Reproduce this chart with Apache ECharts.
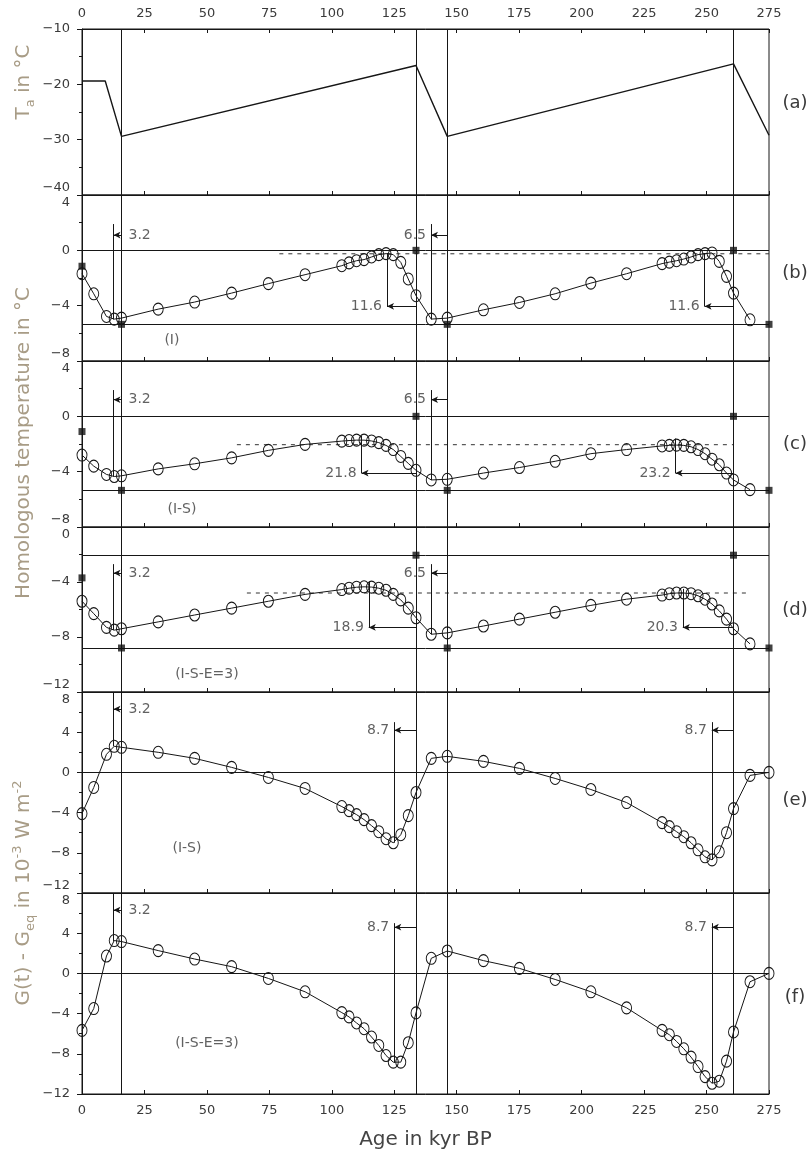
<!DOCTYPE html>
<html><head><meta charset="utf-8">
<script src="https://cdn.jsdelivr.net/npm/echarts@6/dist/echarts.min.js"></script>
<style>html,body{margin:0;padding:0;background:#fff}#c{width:810px;height:1152px}</style>
</head><body><div id="c"></div>
<script>
// ---------------- data ----------------
const xTicks = [0, 25, 50, 75, 100, 125, 150, 175, 200, 225, 250, 275];
// air temperature forcing (panel a)
const taAges = [0, 9.3, 15.8, 133.7, 146.2, 260.8, 275];
const taValues = [-19.4, -19.4, -29.4, -16.6, -29.4, -16.3, -29.2];
// ages of Ta extrema (full-height vertical lines)
const cycleLines = [15.8, 133.7, 146.2, 260.8];
// model output ages (circles)
const ages = [0, 4.7, 9.8, 12.9, 15.8, 30.5, 45.1, 59.9, 74.6, 89.3, 104, 106.9, 109.9, 112.9, 115.9, 118.8, 121.7, 124.6, 127.6, 130.6, 133.7, 139.8, 146.2, 160.7, 175.1, 189.4, 203.7, 218, 232.2, 235.1, 238, 240.9, 243.8, 246.6, 249.4, 252.2, 255.1, 258, 260.8, 267.4, 275];
// (b) homologous basal temperature, case I
const tempI = [-1.69, -3.14, -4.78, -4.97, -4.9, -4.25, -3.74, -3.09, -2.41, -1.76, -1.11, -0.91, -0.75, -0.67, -0.48, -0.31, -0.24, -0.31, -0.87, -2.07, -3.28, -4.97, -4.9, -4.3, -3.77, -3.14, -2.37, -1.69, -0.96, -0.85, -0.75, -0.63, -0.48, -0.31, -0.24, -0.19, -0.8, -1.88, -3.09, -5.02, null];
// (c) case I-S
const tempIS = [-2.8, -3.6, -4.2, -4.35, -4.3, -3.8, -3.43, -3.0, -2.46, -2.03, -1.79, -1.75, -1.72, -1.72, -1.78, -1.9, -2.1, -2.4, -2.9, -3.4, -3.9, -4.6, -4.55, -4.1, -3.7, -3.25, -2.7, -2.4, -2.14, -2.1, -2.08, -2.1, -2.2, -2.4, -2.7, -3.1, -3.5, -4.1, -4.6, -5.3, null];
// (d) case I-S-E=3
const tempISE = [-5.4, -6.3, -7.3, -7.5, -7.4, -6.9, -6.4, -5.9, -5.4, -4.9, -4.55, -4.45, -4.38, -4.35, -4.37, -4.45, -4.6, -4.9, -5.3, -5.9, -6.6, -7.8, -7.7, -7.2, -6.7, -6.2, -5.7, -5.25, -4.95, -4.85, -4.8, -4.8, -4.85, -5.0, -5.25, -5.6, -6.1, -6.7, -7.4, -8.5, null];
// (e) G(t)-Geq, case I-S
const gIS = [-4.1, -1.5, 1.8, 2.6, 2.5, 2.0, 1.4, 0.5, -0.5, -1.6, -3.4, -3.8, -4.2, -4.7, -5.3, -5.9, -6.6, -7.0, -6.2, -4.3, -2.0, 1.4, 1.6, 1.1, 0.4, -0.6, -1.7, -3.0, -5.0, -5.4, -5.9, -6.4, -7.0, -7.7, -8.4, -8.7, -7.9, -6.0, -3.6, -0.3, 0.0];
// (f) G(t)-Geq, case I-S-E=3
const gISE = [-5.67, -3.5, 1.73, 3.27, 3.17, 2.27, 1.43, 0.67, -0.5, -1.83, -3.9, -4.33, -4.93, -5.5, -6.33, -7.17, -8.17, -8.83, -8.83, -6.9, -3.93, 1.5, 2.23, 1.27, 0.5, -0.6, -1.83, -3.43, -5.67, -6.1, -6.77, -7.5, -8.33, -9.27, -10.27, -10.93, -10.73, -8.73, -5.83, -0.83, 0];
// filled squares (reference temperatures)
const squaresI = [[0, -1.15], [15.8, -5.35], [133.7, 0], [146.2, -5.35], [260.8, 0], [275, -5.35]];
const squaresIS = [[0, -1.1], [15.8, -5.35], [133.7, 0], [146.2, -5.35], [260.8, 0], [275, -5.35]];
const squaresISE = [[0, -3.7], [15.8, -8.8], [133.7, -2.05], [146.2, -8.8], [260.8, -2.05], [275, -8.8]];
// solid horizontal reference levels per panel
const levelsI = [0, -5.35];
const levelsIS = [0, -5.35];
const levelsISE = [-2.05, -8.8];
const levelsG = [0];
// dashed levels [value, fromAge, toAge]
const dashI = [-0.25, 79, 275];
const dashIS = [-2.05, 62, 260.8];
const dashISE = [-4.8, 66, 267];
// lag annotations (kyr) and index of the reference line they refer to
const lagsI = [3.2, 6.5, 11.6, 11.6];
const lagsIS = [3.2, 6.5, 21.8, 23.2];
const lagsISE = [3.2, 6.5, 18.9, 20.3];
const lagsG = [3.2, 8.7, 8.7];
const lagRefsTemp = [0, 2, 1, 3];
const lagRefsG = [0, 1, 3];
const caseNames = ['(I)', '(I-S)', '(I-S-E=3)', '(I-S)', '(I-S-E=3)'];
const panelTags = ['(a)', '(b)', '(c)', '(d)', '(e)', '(f)'];

// ---------------- layout ----------------
const FONT = '"DejaVu Sans", "Liberation Sans", sans-serif';
const INK = '#161616';
const TXT = '#3a3a3a';
const TITLE = '#a89c86';
const L = 82, W = 687;
const panels = [
  {top: 29, h: 166, min: -40, max: -10, iv: 10},
  {top: 195, h: 166, min: -8, max: 4, iv: 4},
  {top: 361, h: 166, min: -8, max: 4, iv: 4},
  {top: 527, h: 165, min: -12, max: 0, iv: 4},
  {top: 692, h: 201, min: -12, max: 8, iv: 4},
  {top: 893, h: 201, min: -12, max: 8, iv: 4}
];
// annotation layout: [lineTop, lineBottom, arrowY, textSide]
const annotLayout = [
  null,
  [[1.9, -5.0, 1.1, 'r'], [1.9, -5.0, 1.1, 'l'], [-0.2, -4.05, -4.05, 'l'], [-0.2, -4.05, -4.05, 'l']],
  [[1.9, -4.35, 1.2, 'r'], [1.9, -4.6, 1.2, 'l'], [-1.4, -4.1, -4.1, 'l'], [-1.6, -4.1, -4.1, 'l']],
  [[-2.7, -7.5, -3.35, 'r'], [-2.7, -7.8, -3.35, 'l'], [-4.0, -7.3, -7.3, 'l'], [-4.5, -7.3, -7.3, 'l']],
  [[8, 2.6, 6.3, 'r'], [5.0, -7.0, 4.2, 'l'], [5.0, -8.7, 4.2, 'l']],
  [[8, 3.2, 6.3, 'r'], [5.0, -8.9, 4.6, 'l'], [5.0, -10.9, 4.6, 'l']]
];
const casePos = [null, [36, -6.5], [40, -6.7], [50, -10.7], [42, -7.6], [50, -7.0]];

const panelData = [null,
  {vals: tempI, sq: squaresI, lev: levelsI, dash: dashI, lags: lagsI, refs: lagRefsTemp},
  {vals: tempIS, sq: squaresIS, lev: levelsIS, dash: dashIS, lags: lagsIS, refs: lagRefsTemp},
  {vals: tempISE, sq: squaresISE, lev: levelsISE, dash: dashISE, lags: lagsISE, refs: lagRefsTemp},
  {vals: gIS, sq: null, lev: levelsG, dash: null, lags: lagsG, refs: lagRefsG},
  {vals: gISE, sq: null, lev: levelsG, dash: null, lags: lagsG, refs: lagRefsG}
];

const minus = v => String(v).replace('-', '\u2212');

const grid = panels.map(p => ({left: L, width: W, top: p.top, height: p.h, show: true, borderColor: INK, borderWidth: 1, backgroundColor: 'transparent'}));

const xAxis = panels.map((p, i) => ({
  gridIndex: i, type: 'value', min: 0, max: 275, interval: 25, position: 'bottom',
  axisLine: {show: true, onZero: false, lineStyle: {color: INK, width: 1}},
  axisTick: {show: true, inside: true, length: 4, lineStyle: {color: INK}},
  axisLabel: {show: i === 5, fontSize: 13, color: TXT, fontFamily: FONT, margin: 10},
  splitLine: {show: false},
  name: i === 5 ? 'Age in kyr BP' : '', nameLocation: 'middle', nameGap: 36,
  nameTextStyle: {fontSize: 20, color: '#444', fontFamily: FONT}
}));
xAxis.push({
  gridIndex: 0, type: 'value', min: 0, max: 275, interval: 25, position: 'top',
  axisLine: {show: true, onZero: false, lineStyle: {color: INK, width: 1}},
  axisTick: {show: true, inside: true, length: 4, lineStyle: {color: INK}},
  axisLabel: {show: true, fontSize: 13, color: TXT, fontFamily: FONT, margin: 9},
  splitLine: {show: false}
});

const yAxis = panels.map((p, i) => ({
  gridIndex: i, type: 'value', min: p.min, max: p.max, interval: p.iv,
  axisLine: {show: true, onZero: false, lineStyle: {color: INK, width: 1}},
  axisTick: {show: true, inside: false, length: 5, lineStyle: {color: INK}},
  minorTick: {show: true, splitNumber: 2, length: 3, lineStyle: {color: INK}},
  splitLine: {show: false}, minorSplitLine: {show: false},
  axisLabel: {
    fontSize: 13, color: TXT, fontFamily: FONT, margin: 12,
    formatter: v => (v === p.max && i > 0) ? '{t|' + minus(v) + '}' : ((v === p.min && i < 5) ? '{b|' + minus(v) + '}' : minus(v)),
    rich: {
      t: {fontSize: 13, color: TXT, fontFamily: FONT, padding: [16, 0, 0, 0]},
      b: {fontSize: 13, color: TXT, fontFamily: FONT, padding: [0, 0, 14, 0]}
    }
  }
}));

const series = [];
const vMarks = cycleLines.map(v => ({xAxis: v}));
series.push({
  type: 'line', xAxisIndex: 0, yAxisIndex: 0,
  data: taAges.map((a, k) => [a, taValues[k]]),
  symbol: 'none', lineStyle: {color: INK, width: 1.4},
  markLine: {silent: true, symbol: ['none', 'none'], label: {show: false}, lineStyle: {color: INK, width: 1, type: 'solid'}, data: vMarks, animation: false}
});

for (let i = 1; i < 6; i++) {
  const d = panelData[i];
  const ml = vMarks.slice();
  d.lev.forEach(v => ml.push({yAxis: v}));
  const texts = [];
  d.lags.forEach((lag, k) => {
    const ref = cycleLines[d.refs[k]];
    const x = ref - lag;
    const [yt, yb, ya, side] = annotLayout[i][k];
    ml.push([{coord: [x, yt], symbol: 'none'}, {coord: [x, yb], symbol: 'none'}]);
    ml.push([{coord: [ref, ya], symbol: 'none'}, {coord: [x, ya], symbol: 'arrow', symbolSize: [5, 7]}]);
    if (side === 'r') texts.push({name: String(lag), value: [ref, ya], label: {position: 'right', distance: 7}});
    else texts.push({name: String(lag), value: [x, ya], label: {position: 'left', distance: 5}});
  });
  texts.push({name: caseNames[i - 1], value: casePos[i], label: {position: 'inside'}});

  series.push({
    type: 'line', xAxisIndex: i, yAxisIndex: i, z: 4,
    data: ages.map((a, k) => [a, d.vals[k]]),
    symbol: 'circle', symbolSize: [10, 12], showAllSymbol: true, connectNulls: false,
    itemStyle: {color: 'rgba(0,0,0,0)', borderColor: INK, borderWidth: 1},
    lineStyle: {color: INK, width: 1},
    markLine: {silent: true, symbol: ['none', 'none'], label: {show: false}, lineStyle: {color: INK, width: 1, type: 'solid'}, data: ml, animation: false}
  });
  if (d.sq) series.push({
    type: 'scatter', xAxisIndex: i, yAxisIndex: i, z: 5,
    data: d.sq, symbol: 'rect', symbolSize: 7, itemStyle: {color: '#111'}
  });
  if (d.dash) series.push({
    type: 'line', xAxisIndex: i, yAxisIndex: i, z: 2,
    data: [[d.dash[1], d.dash[0]], [d.dash[2], d.dash[0]]],
    symbol: 'none', lineStyle: {color: '#333', width: 1, type: [4, 5]}
  });
  series.push({
    type: 'scatter', xAxisIndex: i, yAxisIndex: i, z: 6, silent: true,
    data: texts, symbolSize: 0,
    label: {show: true, formatter: '{b}', fontSize: 14, color: TXT, fontFamily: FONT}
  });
}

const graphic = panelTags.map((t, i) => ({
  type: 'text', x: 795, y: [103, 273, 444, 610, 800, 997][i],
  style: {text: t, font: '18px ' + FONT, fill: TXT, align: 'center', verticalAlign: 'middle'}
}));
const titleRich = {
  n: {fontSize: 20, fontFamily: FONT, fill: TITLE, lineHeight: 26},
  sub: {fontSize: 13, fontFamily: FONT, fill: TITLE, verticalAlign: 'bottom', lineHeight: 26},
  sup: {fontSize: 13, fontFamily: FONT, fill: TITLE, verticalAlign: 'top', lineHeight: 26}
};
[
  ['{n|T}{sub|a}{n| in °C}', 82],
  ['{n|Homologous temperature in °C}', 443],
  ['{n|G(t) - G}{sub|eq}{n| in 10}{sup|-3}{n| W m}{sup|-2}', 893]
].forEach(([txt, y]) => graphic.push({
  type: 'text', x: 24, y: y, rotation: Math.PI / 2,
  style: {text: txt, rich: titleRich, fill: TITLE, font: '20px ' + FONT, align: 'center', verticalAlign: 'middle'}
}));

const chart = echarts.init(document.getElementById('c'), null, {renderer: 'canvas'});
chart.setOption({animation: false, backgroundColor: '#fff', grid, xAxis, yAxis, series, graphic});
</script></body></html>
